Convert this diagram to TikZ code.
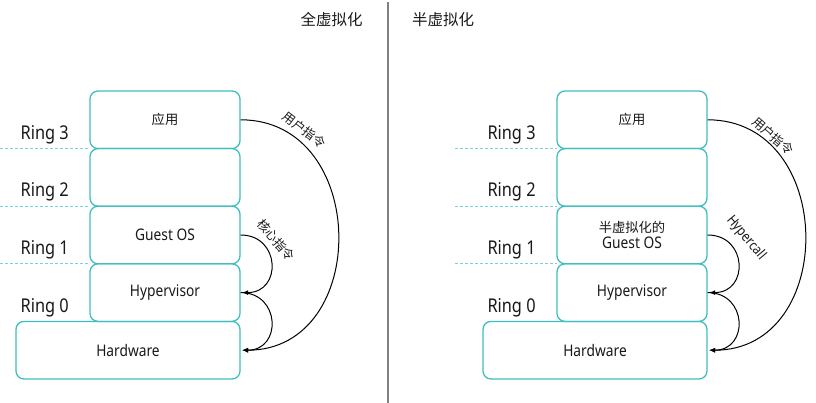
\documentclass[tikz,border=0pt]{standalone}
\usepackage{fontspec}
\setmainfont{Noto Sans}[FakeStretch=0.86]
\newfontfamily\cjk{Noto Sans CJK SC}
\usetikzlibrary{arrows.meta}
\definecolor{teal1}{RGB}{64,190,190}
\definecolor{teal2}{RGB}{120,212,212}
\definecolor{sepgray}{RGB}{128,128,128}
\definecolor{txt}{RGB}{25,25,25}
\tikzset{
  layer/.style={draw=teal1, line width=1.3pt, rounded corners=8pt, minimum width=150pt, minimum height=57.6pt, inner sep=0pt, text=txt, align=center, font=\fontsize{16}{17}\selectfont},
  wide/.style={layer, minimum width=224pt},
  ringlbl/.style={anchor=base west, inner sep=0pt, text=txt, font=\fontsize{19}{20}\selectfont},
  ringline/.style={draw=teal2, line width=1pt, dash pattern=on 3pt off 2pt},
  arr/.style={draw=black, line width=1pt, -{Latex[length=6pt,width=5pt]}},
  arclbl/.style={inner sep=0pt, text=txt},
  title/.style={inner sep=0pt, text=txt, font=\cjk\fontsize{15.5}{16}\selectfont}
}
\begin{document}
\begin{tikzpicture}[x=1pt,y=-1pt]
\useasboundingbox (0,0) rectangle (816,403);
% separator
\coordinate (sepT) at (388,2);
\coordinate (sepB) at (388,403);
\draw[sepgray, line width=1.5pt] (sepT) -- (sepB);
% titles
\node[title] (t1) at (331.5,20) {全虚拟化};
\node[title] (t2) at (443,20) {半虚拟化};

% ---------- left panel ----------
\node[layer] (app) at (165,119.8) {\cjk\fontsize{13.3}{14}\selectfont 应用};
\node[layer] (r2) at (165,177.4) {};
\node[layer] (gos) at (165,235) {\raisebox{-1pt}{Guest OS}};
\node[layer] (hyp) at (165,292.6) {\raisebox{-1.5pt}{Hypervisor}};
\node[wide] (hw) at (128,350.2) {Hardware};

\node[ringlbl] (l3) at (20.5,139.4) {Ring 3};
\node[ringlbl] (l2) at (20.5,197) {Ring 2};
\node[ringlbl] (l1) at (20.5,254.6) {Ring 1};
\node[ringlbl] (l0) at (20.5,312.2) {Ring 0};

\coordinate (d1a) at (0,148.6);   \coordinate (d1b) at (90,148.6);
\coordinate (d2a) at (0,206.2);   \coordinate (d2b) at (90,206.2);
\coordinate (d3a) at (0,263.8);   \coordinate (d3b) at (90,263.8);
\draw[ringline] (d1a) -- (d1b);
\draw[ringline] (d2a) -- (d2b);
\draw[ringline] (d3a) -- (d3b);

\draw[arr] (app.east) .. controls +(129,0) and +(129,0) .. ([xshift=1.5pt]hw.east);
\draw[arr] (gos.east) .. controls +(40,0) and +(40,0) .. ([xshift=1.5pt]hyp.east);
\draw[arr] (hyp.east) .. controls +(40,0) and +(40,0) .. ([xshift=1.5pt]hw.east);

\node[arclbl, rotate=-37, font=\cjk\fontsize{12.5}{13}\selectfont] (u1) at (304,130) {用户指令};
\node[arclbl, rotate=-49, font=\cjk\fontsize{12.5}{13}\selectfont] (k1) at (276,240) {核心指令};

% ---------- right panel ----------
\node[layer] (app2) at (632,119.8) {\cjk\fontsize{13.3}{14}\selectfont 应用};
\node[layer] (r22) at (632,177.4) {};
\node[layer, font=\fontsize{16}{17}\selectfont] (gos2) at (632,235) {{\cjk\fontsize{13.3}{14}\selectfont 半虚拟化的}\\[-1pt]Guest OS};
\node[layer] (hyp2) at (632,292.6) {\raisebox{-1.5pt}{Hypervisor}};
\node[wide] (hw2) at (595,350.2) {Hardware};

\node[ringlbl] (m3) at (487.3,139.4) {Ring 3};
\node[ringlbl] (m2) at (487.3,197) {Ring 2};
\node[ringlbl] (m1) at (487.3,254.6) {Ring 1};
\node[ringlbl] (m0) at (487.3,312.2) {Ring 0};

\coordinate (e1a) at (455,148.6);   \coordinate (e1b) at (557,148.6);
\coordinate (e2a) at (455,206.2);   \coordinate (e2b) at (557,206.2);
\coordinate (e3a) at (455,263.8);   \coordinate (e3b) at (557,263.8);
\draw[ringline] (e1a) -- (e1b);
\draw[ringline] (e2a) -- (e2b);
\draw[ringline] (e3a) -- (e3b);

\draw[arr] (app2.east) .. controls +(129,0) and +(129,0) .. ([xshift=1.5pt]hw2.east);
\draw[arr] (gos2.east) .. controls +(40,0) and +(40,0) .. ([xshift=1.5pt]hyp2.east);
\draw[arr] (hyp2.east) .. controls +(40,0) and +(40,0) .. ([xshift=1.5pt]hw2.east);

\node[arclbl, rotate=-41, font=\cjk\fontsize{12.5}{13}\selectfont] (u2) at (773,136) {用户指令};
\node[arclbl, rotate=-50, font=\fontsize{14}{15}\selectfont] (hc) at (746,238) {Hypercall};
\end{tikzpicture}
\end{document}
